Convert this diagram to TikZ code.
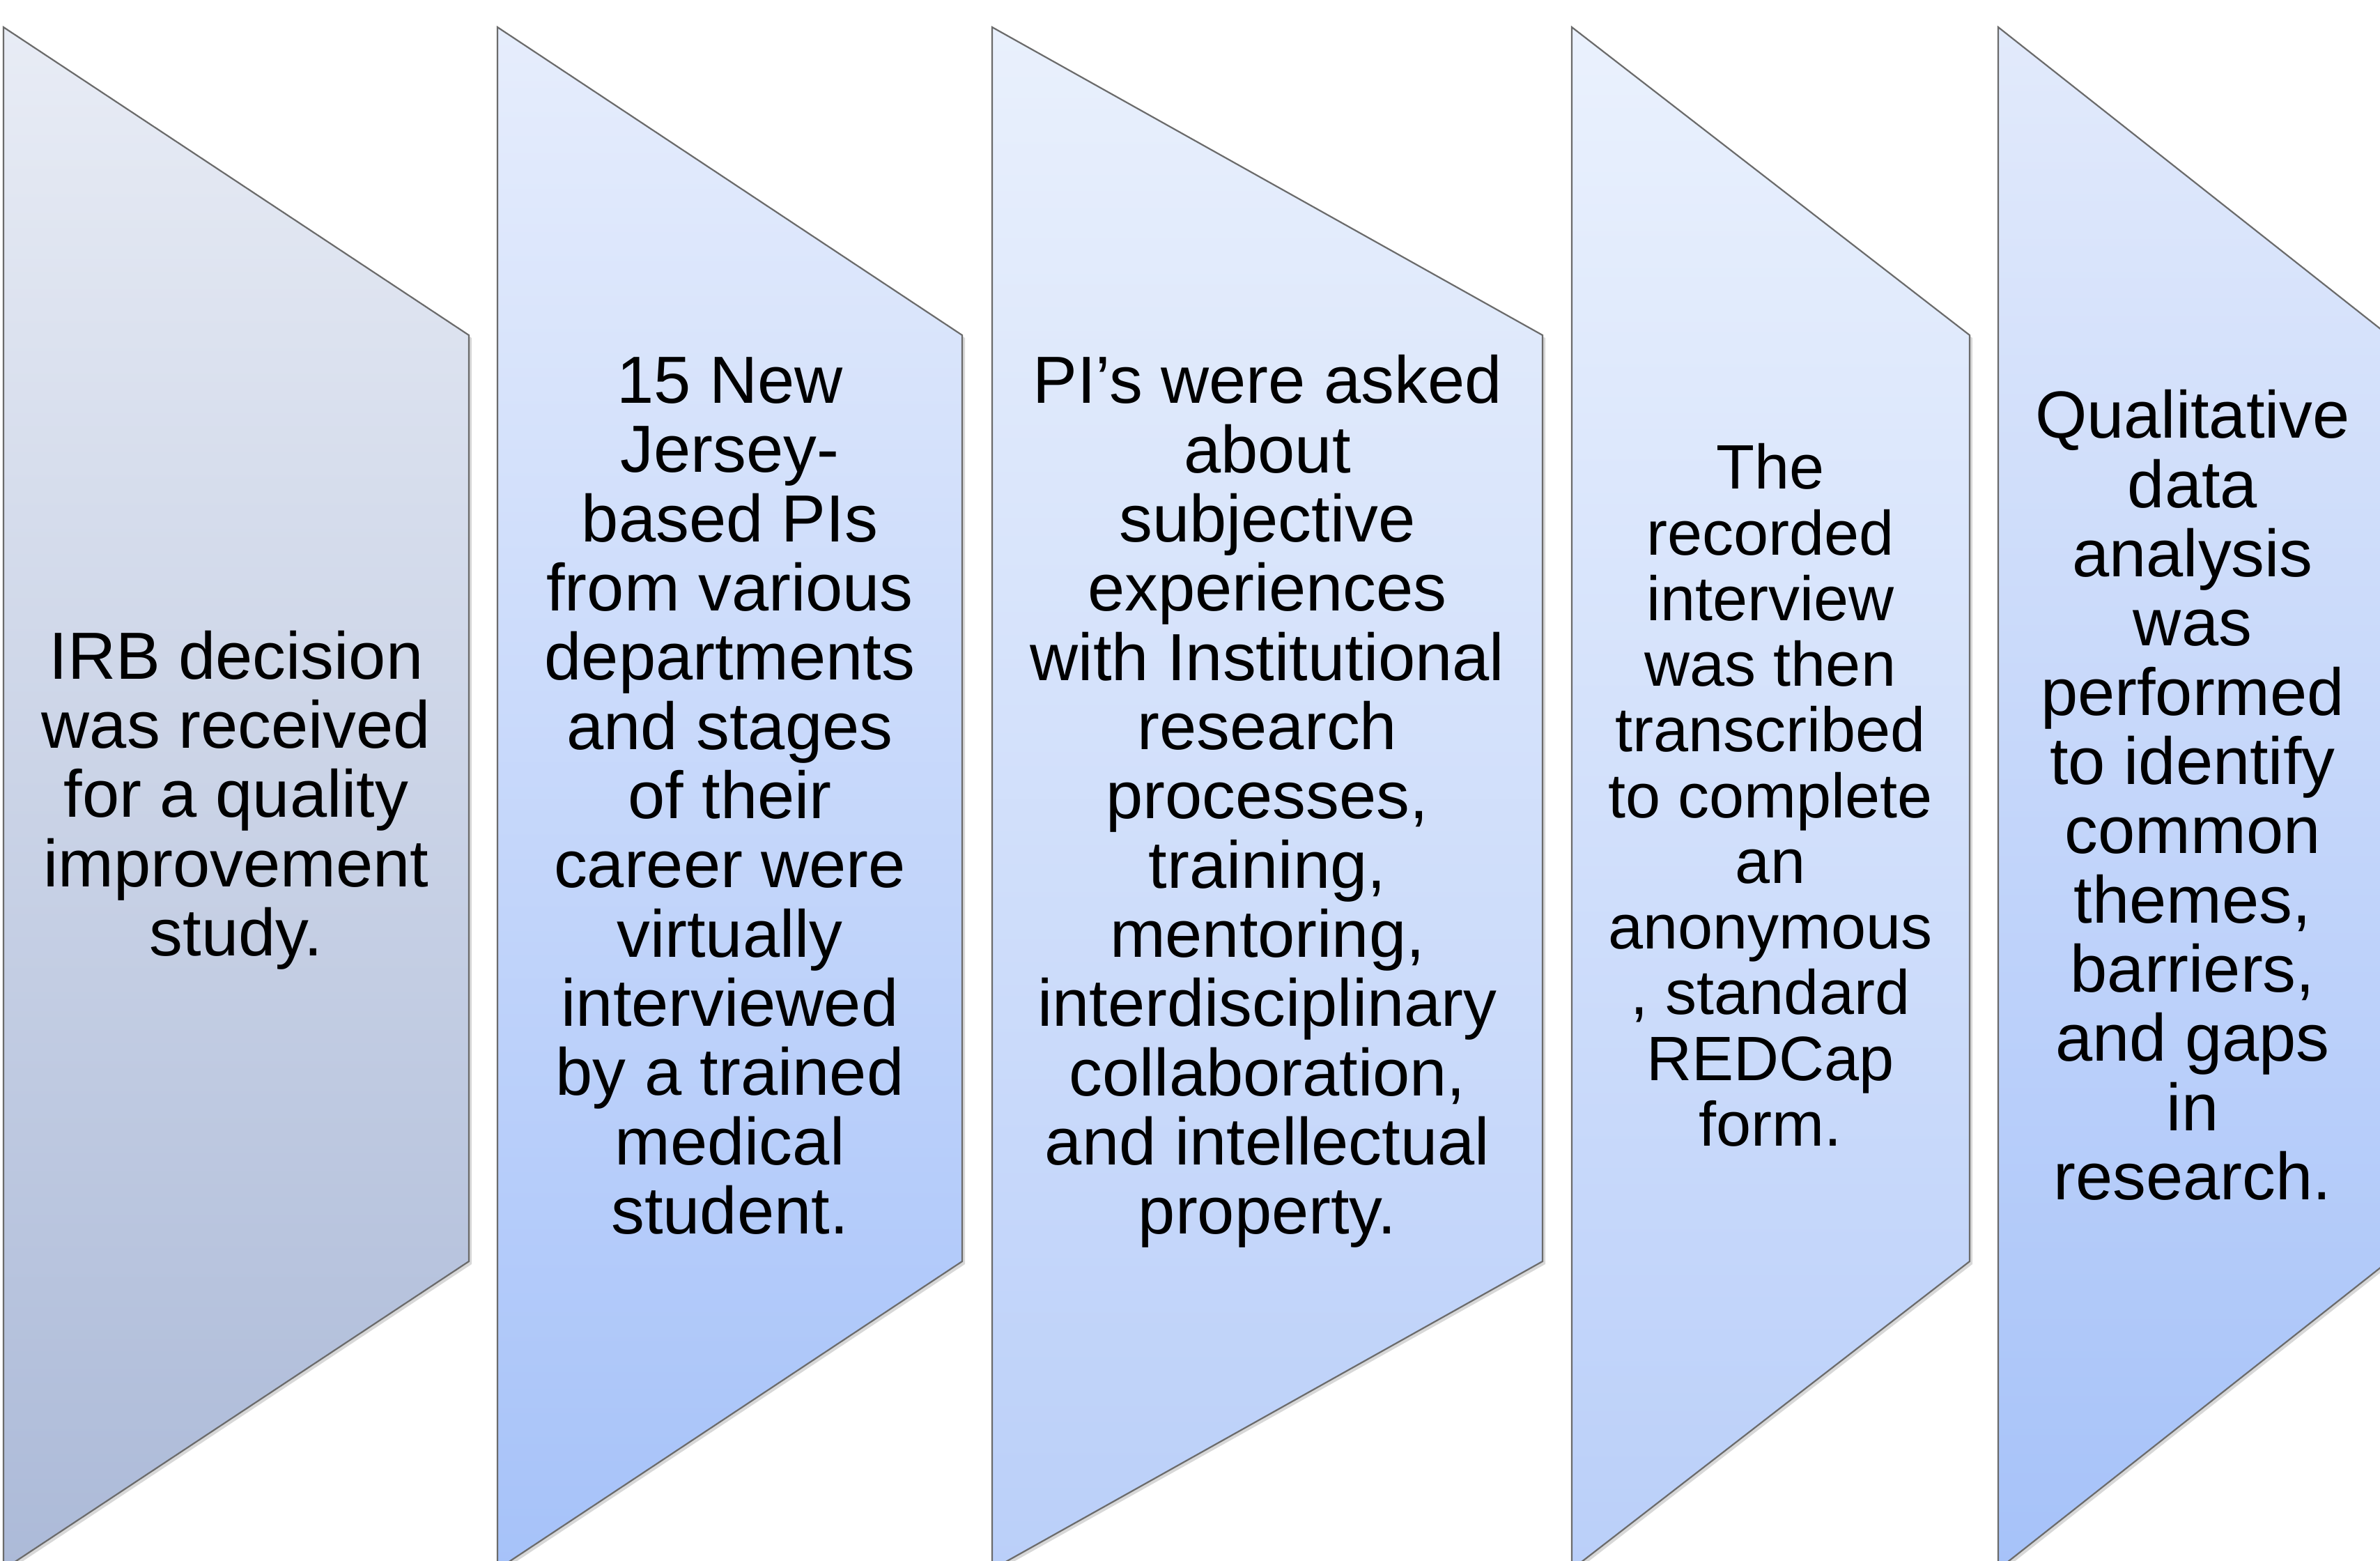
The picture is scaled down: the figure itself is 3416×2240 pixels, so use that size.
\documentclass[tikz,border=0pt]{standalone}
\usepackage{fontspec}
\setmainfont{Liberation Sans}
\usetikzlibrary{shadows}
\begin{document}
\begin{tikzpicture}[x=0.01cm,y=-0.01cm,
  stageshape/.style={draw=black!58, line width=0.022cm,
    drop shadow={shadow xshift=0.04cm, shadow yshift=-0.04cm, opacity=0.3}},
  stagetext/.style={align=center, inner sep=0pt, text=black,
    font=\fontsize{27.2}{28.25}\selectfont},
  stagetextsmall/.style={stagetext, font=\fontsize{25.6}{26.8}\selectfont}]
\useasboundingbox (0,0) rectangle (3416,2240);
\fill[white] (0,0) rectangle (3416,2240);
% shapes
\path[stageshape, top color={rgb,255:red,232;green,236;blue,245}, bottom color={rgb,255:red,172;green,186;blue,216}]
  (5,39) -- (673,481) -- (673,1810) -- (5,2252) -- cycle;
\path[stageshape, top color={rgb,255:red,230;green,237;blue,252}, bottom color={rgb,255:red,166;green,194;blue,249}]
  (714,39) -- (1381,481) -- (1381,1810) -- (714,2252) -- cycle;
\path[stageshape, top color={rgb,255:red,233;green,240;blue,252}, bottom color={rgb,255:red,186;green,207;blue,249}]
  (1424,39) -- (2214,481) -- (2214,1810) -- (1424,2252) -- cycle;
\path[stageshape, top color={rgb,255:red,234;green,241;blue,253}, bottom color={rgb,255:red,186;green,207;blue,249}]
  (2256,39) -- (2827,481) -- (2827,1810) -- (2256,2252) -- cycle;
\path[stageshape, top color={rgb,255:red,226;green,234;blue,251}, bottom color={rgb,255:red,166;green,194;blue,249}]
  (2868,39) -- (3428,481) -- (3428,1810) -- (2868,2252) -- cycle;
% texts
\node[stagetext] (t1) at (339,1148) {IRB decision\\was received\\for a quality\\improvement\\study.};
\node[stagetext] (t2) at (1047.5,1142) {15 New\\Jersey-\\based PIs\\from various\\departments\\and stages\\of their\\career were\\virtually\\interviewed\\by a trained\\medical\\student.};
\node[stagetext] (t3) at (1819,1150) {PI’s were asked\\about\\subjective\\experiences\\with Institutional\\research\\processes,\\training,\\mentoring,\\interdisciplinary\\collaboration,\\and intellectual\\property.};
\node[stagetextsmall] (t4) at (2541,1141) {The\\recorded\\interview\\was then\\transcribed\\to complete\\an\\anonymous\\, standard\\REDCap\\form.};
\node[stagetext] (t5) at (3147,1141) {Qualitative\\data\\analysis\\was\\performed\\to identify\\common\\themes,\\barriers,\\and gaps\\in\\research.};
\end{tikzpicture}
\end{document}
